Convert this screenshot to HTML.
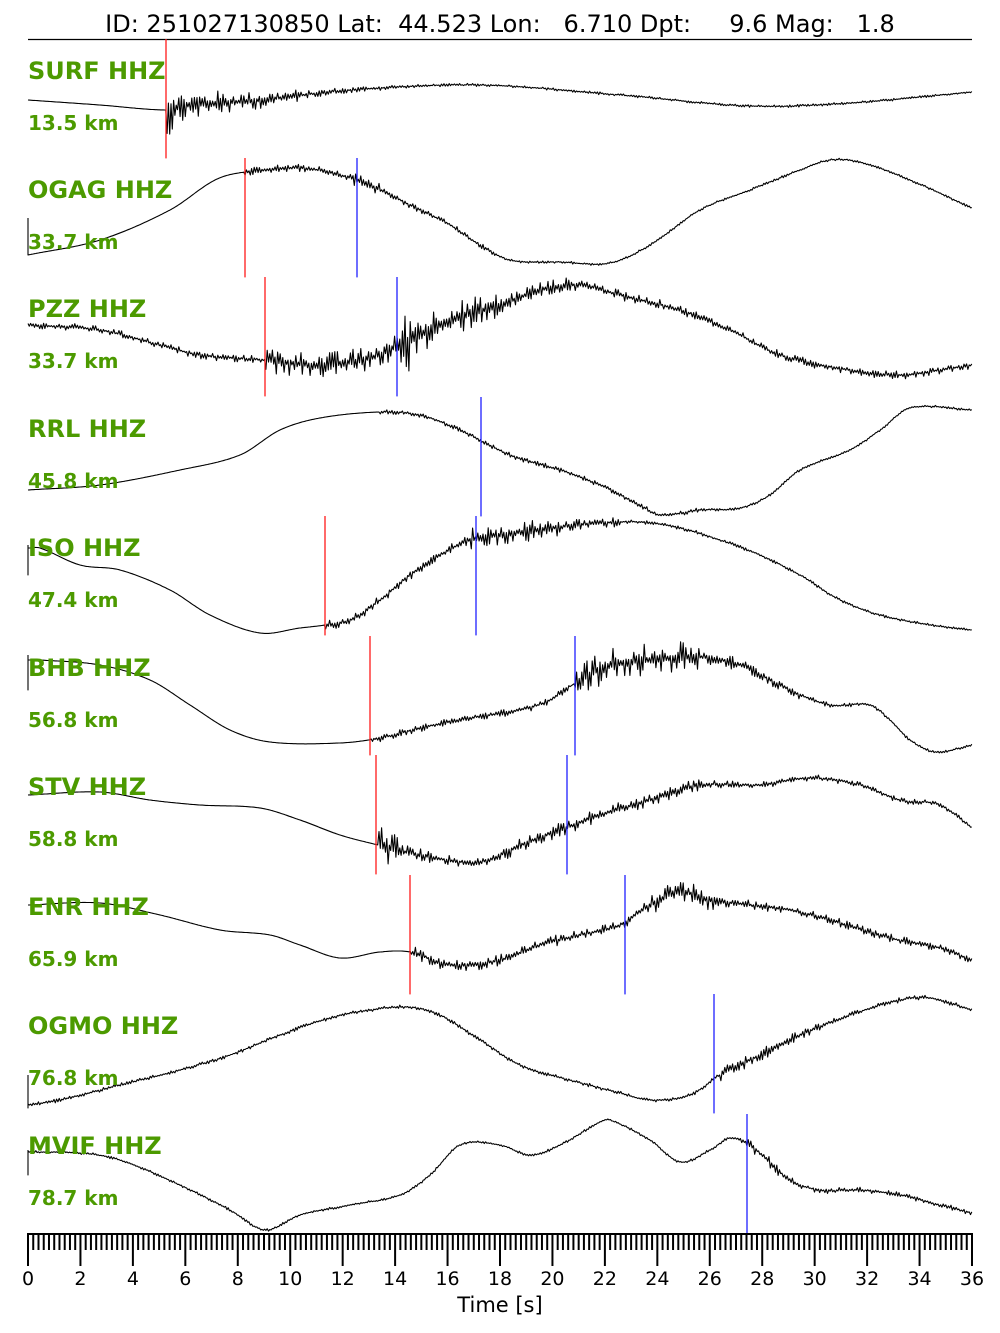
<!DOCTYPE html>
<html><head><meta charset="utf-8">
<style>
html,body{margin:0;padding:0;background:#fff;width:1000px;height:1333px;overflow:hidden}
svg{display:block}
.nm{font-family:"DejaVu Sans","Liberation Sans",sans-serif;font-weight:bold;fill:#4c9a00}
.tx{font-family:"DejaVu Sans","Liberation Sans",sans-serif;fill:#000}
.pre{white-space:pre}
</style></head><body>
<svg id="s" width="1000" height="1333" viewBox="0 0 1000 1333" xmlns="http://www.w3.org/2000/svg">
<text class="tx pre" x="500" y="32" font-size="24" text-anchor="middle" xml:space="preserve">ID: 251027130850 Lat:  44.523 Lon:   6.710 Dpt:     9.6 Mag:   1.8</text>
<line x1="28" y1="39.5" x2="972" y2="39.5" stroke="#000" stroke-width="1.2"/>
<g id="tr" fill="none" stroke="#000" stroke-width="1.1" stroke-linejoin="round"></g>
<g id="mk" stroke-width="1.3"></g>
<g id="lb"></g>
<g id="ax" stroke="#000" stroke-width="2"></g>
<g id="al"></g>
<text class="tx" x="500" y="1312" font-size="21" text-anchor="middle">Time [s]</text>
</svg>
<script>
var seed=12345;function rnd(){seed=(seed*1103515245+12345)%2147483648;return seed/2147483648;}
var traces=[
{n:"SURF HHZ",d:"13.5 km",top:39,red:166,blue:null,
 p:[[28,100],[100,105],[166,110],[180,106],[260,100],[350,90],[480,85],[620,95],[750,106],[850,103],[972,92]],
 z:[[166,175,28,22],[175,240,12,9],[240,300,8,5],[300,400,3,2],[400,972,1.2,1]]},
{n:"OGAG HHZ",d:"33.7 km",top:158,red:245,blue:357,v:[218,255],
 p:[[28,255],[100,240],[170,210],[215,180],[245,172],[300,168],[340,175],[370,185],[410,205],[450,225],[480,245],[510,260],[560,262],[610,263],[650,245],[700,210],[750,190],[800,170],[830,160],[860,162],[910,180],[972,208]],
 z:[[245,350,3,3],[350,380,6,5],[380,500,3,2],[500,972,1,1]]},
{n:"PZZ HHZ",d:"33.7 km",top:277,red:265,blue:397,
 p:[[28,325],[100,330],[160,345],[200,355],[265,360],[320,365],[370,358],[400,345],[450,320],[500,305],[540,290],[580,285],[620,295],[680,310],[730,330],[780,355],[850,370],[900,375],[940,370],[972,365]],
 z:[[28,265,3,3],[265,397,11,10],[397,420,28,22],[420,500,18,10],[500,600,8,5],[600,972,4,3]]},
{n:"RRL HHZ",d:"45.8 km",top:397,red:null,blue:481,
 p:[[28,490],[100,485],[180,470],[240,455],[280,430],[320,418],[380,412],[420,415],[460,430],[510,455],[560,470],[600,485],[640,505],[660,515],[700,510],[740,508],[770,495],[800,470],[850,450],[880,430],[910,408],[972,410]],
 z:[[380,700,2,2],[700,972,1,1]]},
{n:"ISO HHZ",d:"47.4 km",top:516,red:325,blue:476,v:[545,575],
 p:[[28,548],[40,548],[80,565],[120,570],[170,590],[210,615],[260,633],[300,628],[325,625],[350,620],[380,600],[410,575],[440,555],[470,540],[500,535],[550,528],[600,523],[640,522],[680,528],[720,540],[760,555],[800,575],[840,600],[880,615],[930,625],[972,630]],
 z:[[325,470,4,4],[470,560,9,8],[560,620,5,4],[620,972,1.5,1]]},
{n:"BHB HHZ",d:"56.8 km",top:636,red:370,blue:575,v:[655,690],
 p:[[28,660],[40,660],[100,665],[150,680],[190,705],[230,730],[270,742],[340,743],[380,738],[420,728],[470,718],[520,710],[550,700],[580,680],[610,665],[650,660],[700,657],[740,665],[790,690],[830,705],[870,705],[890,720],[910,740],[935,752],[972,745]],
 z:[[370,570,3,3],[575,700,14,12],[700,800,6,4],[800,972,2,1]]},
{n:"STV HHZ",d:"58.8 km",top:755,red:376,blue:567,
 p:[[28,795],[100,792],[150,800],[200,805],[260,808],[300,820],[340,835],[378,845],[420,855],[480,862],[520,845],[560,830],[600,815],[650,800],[700,785],[760,785],[810,778],[860,785],[900,800],[940,805],[972,828]],
 z:[[378,400,18,12],[400,460,6,4],[460,500,3,4],[500,700,6,5],[700,972,3,2]]},
{n:"ENR HHZ",d:"65.9 km",top:875,red:410,blue:625,
 p:[[28,905],[100,903],[160,915],[220,930],[270,935],[300,945],[340,958],[380,952],[410,952],[450,965],[500,960],[540,945],[580,935],[620,925],[650,905],[680,892],[710,900],[750,905],[790,910],[830,920],[890,938],[940,948],[972,960]],
 z:[[410,640,5,4],[640,720,9,8],[720,972,4,3]]},
{n:"OGMO HHZ",d:"76.8 km",top:994,red:null,blue:714,v:[1075,1108],
 p:[[28,1105],[60,1100],[120,1085],[180,1070],[230,1055],[280,1035],[330,1018],[370,1010],[410,1007],[440,1015],[480,1040],[520,1065],[570,1080],[620,1093],[650,1100],[690,1095],[720,1075],[760,1055],[800,1035],[850,1015],[900,1000],[930,998],[972,1010]],
 z:[[28,720,1.5,1.5],[720,820,6,4],[820,972,2,2]]},
{n:"MVIF HHZ",d:"78.7 km",top:1114,red:null,blue:747,v:[1150,1175],
 p:[[28,1152],[80,1153],[120,1160],[180,1185],[230,1210],[265,1230],[300,1215],[350,1205],[400,1195],[430,1175],[460,1145],[500,1145],[530,1155],[560,1145],[600,1122],[610,1120],[650,1140],[680,1162],[710,1150],[730,1138],[750,1145],[790,1180],[820,1190],[860,1190],[900,1195],[940,1205],[972,1213]],
 z:[[28,740,1.2,1],[740,800,5,4],[800,972,2.5,2]]}
];
function interp(p,x){for(var i=0;i<p.length-1;i++){if(x<=p[i+1][0]){var p0=p[Math.max(i-1,0)],p1=p[i],p2=p[i+1],p3=p[Math.min(i+2,p.length-1)];var t=(x-p1[0])/(p2[0]-p1[0]||1);var t2=t*t,t3=t2*t;
var m1=(p2[1]-p0[1])/((p2[0]-p0[0])||1)*(p2[0]-p1[0]),m2=(p3[1]-p1[1])/((p3[0]-p1[0])||1)*(p2[0]-p1[0]);
return (2*t3-3*t2+1)*p1[1]+(t3-2*t2+t)*m1+(-2*t3+3*t2)*p2[1]+(t3-t2)*m2;}}return p[p.length-1][1];}
function amp(z,x){for(var i=0;i<z.length;i++){var s=z[i];if(x>=s[0]&&x<=s[1]){var f=(x-s[0])/((s[1]-s[0])||1);return s[2]+(s[3]-s[2])*f;}}return 0;}
var NS="http://www.w3.org/2000/svg";
var tr=document.getElementById("tr"),mk=document.getElementById("mk"),lb=document.getElementById("lb");
traces.forEach(function(T){
 var pts=[];if(T.v){pts.push("28,"+T.v[0]);pts.push("28,"+T.v[1]);}
 var sgn=1;
 for(var x=28;x<=972;x+=1.3){var y=interp(T.p,x);var a=amp(T.z,x);sgn=-sgn;var r=rnd();y+=sgn*a*(0.15+0.85*r*r*1.3);pts.push(x.toFixed(1)+","+y.toFixed(1));}
 var pl=document.createElementNS(NS,"polyline");pl.setAttribute("points",pts.join(" "));tr.appendChild(pl);
 var b=T.top+119.4;
 if(T.red){var l=document.createElementNS(NS,"line");l.setAttribute("x1",T.red);l.setAttribute("x2",T.red);l.setAttribute("y1",T.top);l.setAttribute("y2",b);l.setAttribute("stroke","#ff1a1a");mk.appendChild(l);}
 if(T.blue){var l2=document.createElementNS(NS,"line");l2.setAttribute("x1",T.blue);l2.setAttribute("x2",T.blue);l2.setAttribute("y1",T.top);l2.setAttribute("y2",b);l2.setAttribute("stroke","#2020ff");mk.appendChild(l2);}
 var t1=document.createElementNS(NS,"text");t1.setAttribute("class","nm");t1.setAttribute("x",28);t1.setAttribute("y",T.top+40);t1.setAttribute("font-size","24");t1.textContent=T.n;lb.appendChild(t1);
 var t2=document.createElementNS(NS,"text");t2.setAttribute("class","nm");t2.setAttribute("x",28);t2.setAttribute("y",T.top+91);t2.setAttribute("font-size","20");t2.textContent=T.d;lb.appendChild(t2);
});
var ax=document.getElementById("ax"),al=document.getElementById("al");
var hl=document.createElementNS(NS,"line");hl.setAttribute("x1",27);hl.setAttribute("x2",973);hl.setAttribute("y1",1234);hl.setAttribute("y2",1234);ax.appendChild(hl);
for(var i=0;i<=180;i++){var x=28+i*944/180;var l=document.createElementNS(NS,"line");l.setAttribute("x1",x);l.setAttribute("x2",x);l.setAttribute("y1",1234);l.setAttribute("y2",i%10==0?1266:1250);ax.appendChild(l);
 if(i%10==0){var t=document.createElementNS(NS,"text");t.setAttribute("class","tx");t.setAttribute("x",x);t.setAttribute("y",1285);t.setAttribute("font-size","19");t.setAttribute("text-anchor","middle");t.textContent=String(i/5);al.appendChild(t);}}
</script>
</body></html>
